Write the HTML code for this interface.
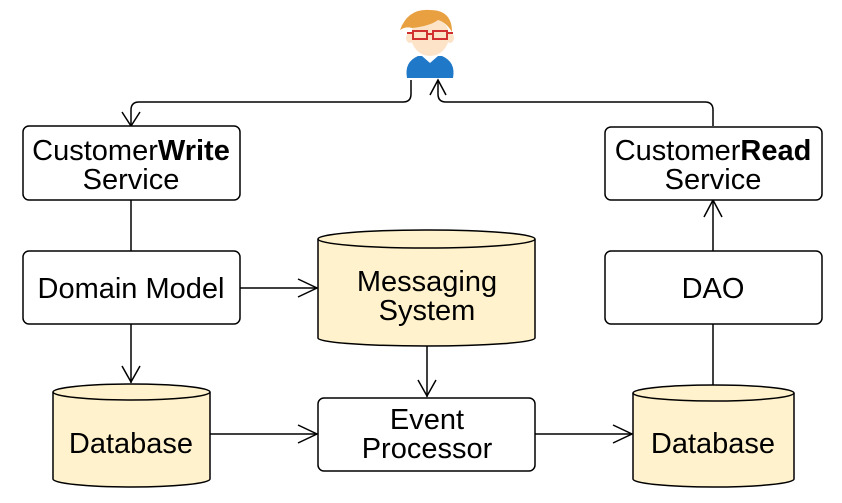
<!DOCTYPE html>
<html><head><style>html,body{margin:0;padding:0;background:#fff}svg{display:block}</style></head>
<body>
<svg width="842" height="503" viewBox="0 0 842 503" xmlns="http://www.w3.org/2000/svg" font-family="Liberation Sans, sans-serif" font-size="29" fill="none" stroke="#000" stroke-width="1.5">
<!-- person -->
<g stroke="none">
<path d="M407 78 Q404 62 418 56 L442 56 Q456 62 453 78 Z" fill="#1f78c8"/>
<path d="M422 56 L430 63 L438 56 Z" fill="#fff"/>
<ellipse cx="430" cy="36" rx="19" ry="20" fill="#fde3c8"/>
<ellipse cx="410" cy="38" rx="4" ry="5" fill="#fde3c8"/>
<ellipse cx="450" cy="38" rx="4" ry="5" fill="#fde3c8"/>
<path d="M400 30 Q408 8 430 10 Q452 10 452 32 Q446 22 438 20 Q430 26 412 28 Q406 26 400 30 Z" fill="#e8a040"/>
</g>
<g stroke="#d03030" stroke-width="2">
<rect x="413" y="31" width="14" height="8"/><rect x="433" y="31" width="14" height="8"/>
<line x1="427" y1="34" x2="433" y2="34"/><line x1="407" y1="33" x2="413" y2="33"/><line x1="447" y1="33" x2="453" y2="33"/>
</g>
<!-- connectors -->
<path d="M411 80 V94 Q411 102 403 102 H139 Q131 102 131 110 V126"/>
<path d="M122 112 L131 126 L140 112"/>
<path d="M713 126 V110 Q713 102 705 102 H446 Q438 102 438 94 V80"/>
<path d="M430 95 L438 80 L446 95"/>
<line x1="131" y1="200" x2="131" y2="251"/>
<line x1="131" y1="324" x2="131" y2="383"/>
<path d="M122 366 L131 382 L140 366"/>
<line x1="240" y1="288" x2="317" y2="288"/>
<path d="M298 279 L317 288 L298 297"/>
<line x1="427" y1="345" x2="427" y2="397"/>
<path d="M418 380 L427 396 L436 380"/>
<line x1="210" y1="434" x2="317" y2="434"/>
<path d="M298 425 L317 434 L298 443"/>
<line x1="535" y1="434" x2="632" y2="434"/>
<path d="M613 425 L632 434 L613 443"/>
<line x1="713" y1="324" x2="713" y2="385"/>
<line x1="713" y1="251" x2="713" y2="200"/>
<path d="M704 217 L713 200 L722 217"/>
<!-- boxes -->
<rect x="23" y="126" width="217" height="74" rx="6" fill="#fff"/>
<rect x="23" y="251" width="217" height="73" rx="6" fill="#fff"/>
<rect x="318" y="398" width="217" height="73" rx="6" fill="#fff"/>
<rect x="605" y="127" width="217" height="73" rx="6" fill="#fff"/>
<rect x="605" y="251" width="217" height="73" rx="6" fill="#fff"/>
<!-- cylinders -->
<path d="M318 239 A108.5 9 0 0 1 535 239 V338 A108.5 8 0 0 1 318 338 Z" fill="#fff2cc"/>
<path d="M318 239 A108.5 9 0 0 0 535 239"/>
<path d="M53 392 A78.5 8 0 0 1 210 392 V479 A78.5 8 0 0 1 53 479 Z" fill="#fff2cc"/>
<path d="M53 392 A78.5 8 0 0 0 210 392"/>
<path d="M633 393 A80.5 8 0 0 1 794 393 V479 A80.5 8 0 0 1 633 479 Z" fill="#fff2cc"/>
<path d="M633 393 A80.5 8 0 0 0 794 393"/>
<!-- text -->
<g fill="#000" stroke="none" text-anchor="middle">
<text x="131" y="160">Customer<tspan font-weight="bold">Write</tspan></text>
<text x="131" y="189">Service</text>
<text x="131" y="298">Domain Model</text>
<text x="427" y="291">Messaging</text>
<text x="427" y="320">System</text>
<text x="427" y="429">Event</text>
<text x="427" y="458">Processor</text>
<text x="131" y="453">Database</text>
<text x="713" y="453">Database</text>
<text x="713" y="298">DAO</text>
<text x="713" y="160">Customer<tspan font-weight="bold">Read</tspan></text>
<text x="713" y="189">Service</text>
</g>
</svg>
</body></html>
